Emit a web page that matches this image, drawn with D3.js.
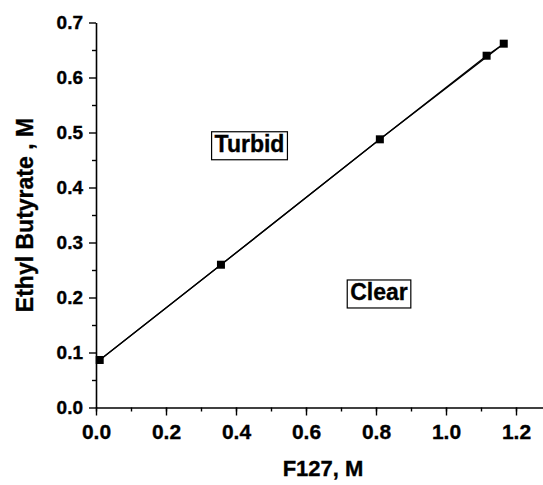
<!DOCTYPE html>
<html>
<head>
<meta charset="utf-8">
<script src="https://cdn.jsdelivr.net/npm/d3@7/dist/d3.min.js"></script>
<style>
  html, body { margin: 0; padding: 0; background: #fff; }
  svg { display: block; font-family: "Liberation Sans", Arial, sans-serif; font-weight: bold; }
  text { font-weight: bold; stroke: #000; stroke-width: 0.35px; }
</style>
</head>
<body>
<svg id="chart" width="543" height="485"></svg>
<script>
// Data
const f127 = [0.0106, 0.357, 0.811, 1.116, 1.165];
const ethylButyrate = [0.0864, 0.2596, 0.4876, 0.6396, 0.6615];
// second boundary trace (skips the 4th point)
const f127B = [0.0106, 0.357, 0.811, 1.165];
const ethylButyrateB = [0.0864, 0.2596, 0.4876, 0.6615];
const xTicks = [0.0, 0.2, 0.4, 0.6, 0.8, 1.0, 1.2];
const yTicks = [0.0, 0.1, 0.2, 0.3, 0.4, 0.5, 0.6, 0.7];
const regionLabels = ["Turbid", "Clear"];
const regionPos = [[0.4386, 0.465], [0.8086, 0.1955]];

const svg = d3.select("#chart");
const x = d3.scaleLinear().domain([0, 1.3]).range([96, 551]);
const y = d3.scaleLinear().domain([0, 0.7]).range([407.5, 22.5]);

// Axes
const xAxisMinor = d3.axisBottom(x).tickValues(d3.range(0, 1.3, 0.1)).tickSize(4).tickFormat("");
const xAxis = d3.axisBottom(x).tickValues(xTicks).tickSize(8).tickSizeOuter(0).tickFormat(d3.format(".1f"));
const yAxisMinor = d3.axisLeft(y).tickValues(d3.range(0.05, 0.7, 0.1)).tickSize(4).tickFormat("");
const yAxis = d3.axisLeft(y).tickValues(yTicks).tickSize(7).tickSizeOuter(0).tickFormat(d3.format(".1f"));

const gx = svg.append("g").attr("transform", "translate(0,407.5)");
gx.call(xAxis);
gx.append("g").call(xAxisMinor).select(".domain").remove();
gx.attr("font-size", 21).attr("font-family", "Liberation Sans, Arial, sans-serif").attr("font-weight", "bold");
gx.selectAll("text").attr("font-size", 21).attr("fill", "#000").attr("dy", "0").attr("y", 31.5);
gx.selectAll(".domain").attr("stroke", "#000").attr("stroke-width", 1.6);
gx.selectAll("line").attr("stroke", "#000").attr("stroke-width", 1.4);

const gy = svg.append("g").attr("transform", "translate(96,0)");
gy.call(yAxis);
gy.append("g").call(yAxisMinor).select(".domain").remove();
gy.attr("font-size", 19).attr("font-family", "Liberation Sans, Arial, sans-serif").attr("font-weight", "bold");
gy.selectAll("text").attr("font-size", 19).attr("fill", "#000").attr("x", -13);
gy.selectAll(".domain").attr("stroke", "#000").attr("stroke-width", 1.6);
gy.selectAll("line").attr("stroke", "#000").attr("stroke-width", 1.4);

// Lines
const line = d3.line().x(d => x(d[0])).y(d => y(d[1]));
svg.append("path").datum(d3.zip(f127B, ethylButyrateB)).attr("d", line)
  .attr("fill", "none").attr("stroke", "#000").attr("stroke-width", 1.3);
svg.append("path").datum(d3.zip(f127, ethylButyrate)).attr("d", line)
  .attr("fill", "none").attr("stroke", "#000").attr("stroke-width", 1.3);

// Markers
const ms = 8;
svg.append("g").selectAll("rect").data(d3.zip(f127, ethylButyrate)).join("rect")
  .attr("x", d => x(d[0]) - ms / 2).attr("y", d => y(d[1]) - ms / 2)
  .attr("width", ms).attr("height", ms).attr("fill", "#000");

// Region labels with boxes
regionLabels.forEach((lab, i) => {
  const g = svg.append("g");
  const t = g.append("text").text(lab)
    .attr("x", x(regionPos[i][0])).attr("y", y(regionPos[i][1]))
    .attr("text-anchor", "middle").attr("font-size", 23).attr("fill", "#000");
  const bb = t.node().getBBox();
  g.insert("rect", "text")
    .attr("x", bb.x - 3).attr("y", bb.y + 1).attr("width", bb.width + 6).attr("height", bb.height + 2)
    .attr("fill", "#fff").attr("stroke", "#000").attr("stroke-width", 1.2);
});

// Axis titles
svg.append("text").text("F127, M").attr("x", 323).attr("y", 476)
  .attr("text-anchor", "middle").attr("font-size", 22).attr("fill", "#000");
svg.append("text").text("Ethyl Butyrate , M")
  .attr("transform", "translate(33,215) rotate(-90)")
  .attr("text-anchor", "middle").attr("font-size", 23).attr("fill", "#000");
</script>
</body>
</html>
